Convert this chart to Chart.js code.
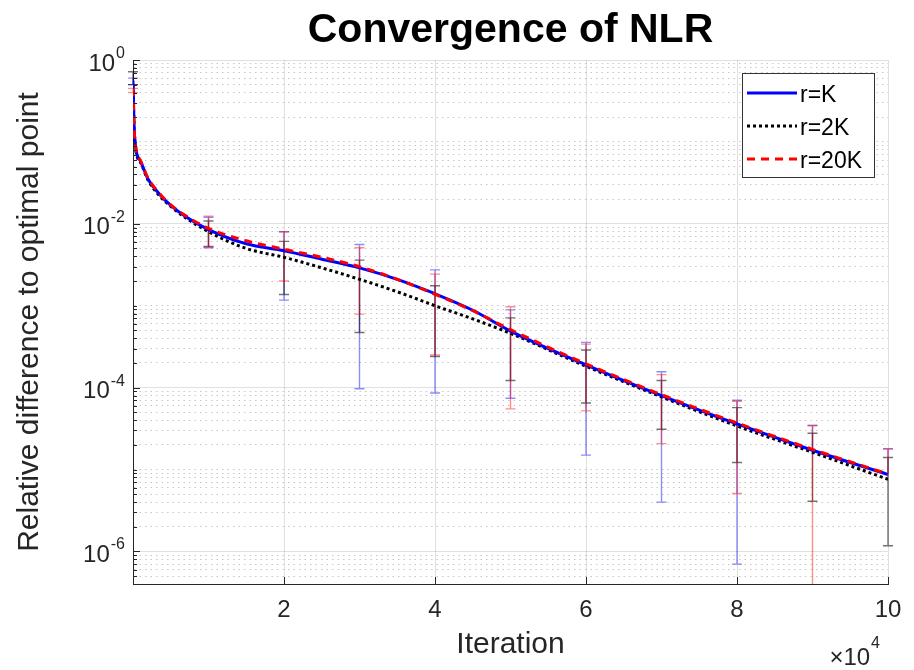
<!DOCTYPE html>
<html lang="en">
<head>
<meta charset="UTF-8">
<title>Convergence of NLR</title>
<script src="https://cdn.jsdelivr.net/npm/chart.js"></script>
<style>
  body { margin: 0; background: #fff; }
</style>
</head>
<body>
<canvas id="chart" width="914" height="670"></canvas>
<script>
// iteration (in units of 1e4) and mean relative difference of each run
const iters = [0, 0.02, 0.1, 0.2, 0.35, 0.5, 0.7, 1, 1.5, 2, 2.5, 3, 3.5, 4, 4.5, 5, 6, 7, 8, 9, 10];
const rK   = [0.56, 0.12, 0.058, 0.035, 0.023, 0.0168, 0.0122, 0.0085, 0.0057, 0.0047, 0.0037, 0.0029, 0.0021, 0.0014, 0.00088, 0.00049, 0.00019, 0.00008, 0.000036, 0.0000172, 0.0000087];
const r2K  = [0.5, 0.11, 0.056, 0.034, 0.022, 0.0163, 0.0118, 0.0080, 0.0050, 0.0039, 0.0029, 0.0021, 0.00148, 0.00100, 0.00069, 0.00046, 0.000182, 0.000077, 0.000034, 0.0000162, 0.0000076];
const r20K = [0.45, 0.12, 0.059, 0.036, 0.0235, 0.017, 0.0125, 0.0088, 0.0062, 0.0049, 0.0039, 0.0030, 0.0021, 0.00138, 0.00087, 0.00051, 0.000195, 0.000082, 0.000037, 0.0000176, 0.0000088];

// error bars at whole iterations (null = lower end not shown)
const barIters = [0, 1, 2, 3, 4, 5, 6, 7, 8, 9, 10];
const rKHi   = [0.6, 0.0120, 0.0080, 0.0056, 0.00274, 0.00089, 0.000357, 0.000156, 0.000070, 0.0000345, 0.0000178];
const rKLo   = [0.5, 0.0051, 0.00117, 0.000097, 0.000086, 0.000074, 0.000015, 0.0000040, 0.0000007, null, null];
const r2KHi  = [0.72, 0.0108, 0.0061, 0.0036, 0.00175, 0.00071, 0.000288, 0.000122, 0.000057, 0.0000277, 0.0000140];
const r2KLo  = [0.5, 0.0053, 0.00137, 0.00047, 0.00024, 0.000122, 0.000065, 0.000031, 0.0000122, 0.0000041, 0.00000117];
const r20KHi = [0.45, 0.0124, 0.0080, 0.0051, 0.00243, 0.00097, 0.00034, 0.000144, 0.000068, 0.0000345, 0.0000180];
const r20KLo = [0.4, 0.0052, 0.0020, 0.00079, 0.00025, 0.000055, 0.000052, 0.0000207, 0.0000051, 0.0000003, null];

const xTicks = [2, 4, 6, 8, 10];
const yTickExps = [0, -2, -4, -6];
const yMin = 4e-7, yMax = 1;

const FONT = '"Liberation Sans", Arial, Helvetica, sans-serif';
const AXIS = '#262626';

const series = [
  { label: 'r=K',   mean: rK,   hi: rKHi,   lo: rKLo,   color: '#0000ff', dash: [],     bar: 'rgba(0,0,255,0.45)' },
  { label: 'r=2K',  mean: r2K,  hi: r2KHi,  lo: r2KLo,  color: '#000000', dash: [3, 3], bar: 'rgba(0,0,0,0.55)' },
  { label: 'r=20K', mean: r20K, hi: r20KHi, lo: r20KLo, color: '#ff0000', dash: [8, 6], bar: 'rgba(255,0,0,0.45)' }
];

// grid positions for the log axis: 1..9 x 10^e
const yGrid = [];
for (let e = -7; e <= 0; e++) {
  for (let m = 1; m <= 9; m++) {
    const v = Number((m * Math.pow(10, e)).toPrecision(6));
    if (v >= yMin && v <= yMax) yGrid.push(v);
  }
}
const isMajor = v => yTickExps.some(e => Math.abs(Math.log10(v) - e) < 1e-6);

const decor = {
  id: 'decor',
  beforeDatasetsDraw(chart) {
    const { ctx, chartArea: a, scales: { x, y } } = chart;
    // error bars, under the lines
    ctx.save();
    ctx.beginPath();
    ctx.rect(a.left - 12, a.top, a.width + 24, a.height);
    ctx.clip();
    ctx.lineWidth = 1.4;
    series.forEach(s => {
      ctx.strokeStyle = s.bar;
      barIters.forEach((it, i) => {
        const px = x.getPixelForValue(it);
        const top = y.getPixelForValue(s.hi[i]);
        const hasLo = s.lo[i] != null;
        const bot = y.getPixelForValue(hasLo ? s.lo[i] : s.mean[iters.indexOf(it)]);
        ctx.beginPath();
        ctx.moveTo(px, top); ctx.lineTo(px, bot);
        ctx.moveTo(px - 5, top); ctx.lineTo(px + 5, top);
        if (hasLo) { ctx.moveTo(px - 5, bot); ctx.lineTo(px + 5, bot); }
        ctx.stroke();
      });
    });
    ctx.restore();
  },
  afterDraw(chart) {
    const { ctx, chartArea: a, scales: { x, y } } = chart;
    ctx.save();
    // inward tick marks
    ctx.strokeStyle = AXIS;
    ctx.lineWidth = 1;
    ctx.beginPath();
    yGrid.forEach(v => {
      const py = Math.round(y.getPixelForValue(v)) + 0.5;
      ctx.moveTo(a.left, py);
      ctx.lineTo(a.left + (isMajor(v) ? 7 : 4), py);
    });
    xTicks.forEach(v => {
      const px = Math.round(x.getPixelForValue(v)) + 0.5;
      ctx.moveTo(px, a.bottom);
      ctx.lineTo(px, a.bottom - 7);
    });
    ctx.stroke();

    // y tick labels 10^e
    ctx.fillStyle = AXIS;
    yTickExps.forEach(e => {
      const py = y.getPixelForValue(Math.pow(10, e));
      const right = a.left - 8;
      ctx.font = '16px ' + FONT;
      ctx.textAlign = 'right';
      ctx.textBaseline = 'alphabetic';
      const expTxt = String(e);
      const ew = ctx.measureText(expTxt).width;
      ctx.fillText(expTxt, right, py - 2);
      ctx.font = '24px ' + FONT;
      ctx.textBaseline = 'middle';
      ctx.fillText('10', right - ew - 1, py + 4);
    });

    // x scale factor
    ctx.textAlign = 'right';
    ctx.textBaseline = 'alphabetic';
    ctx.font = '16px ' + FONT;
    const w4 = ctx.measureText('4').width;
    ctx.fillText('4', a.right - 8, a.bottom + 64);
    ctx.font = '24px ' + FONT;
    ctx.fillText('\u00d710', a.right - 9 - w4, a.bottom + 81);

    // axis titles
    ctx.fillStyle = AXIS;
    ctx.font = '30px ' + FONT;
    ctx.textAlign = 'center';
    ctx.textBaseline = 'middle';
    ctx.fillText('Iteration', (a.left + a.right) / 2, a.bottom + 61);
    ctx.save();
    ctx.translate(30, (a.top + a.bottom) / 2);
    ctx.rotate(-Math.PI / 2);
    ctx.fillText('Relative difference to optimal point', 0, 0);
    ctx.restore();

    // title
    ctx.fillStyle = '#000';
    ctx.font = 'bold 41px ' + FONT;
    ctx.fillText('Convergence of NLR', (a.left + a.right) / 2, 31);

    // legend
    const lx = a.right - 146, ly = a.top + 13, lw = 132, lh = 104;
    ctx.fillStyle = '#fff';
    ctx.fillRect(lx, ly, lw, lh);
    ctx.strokeStyle = '#333';
    ctx.lineWidth = 1;
    ctx.strokeRect(lx + 0.5, ly + 0.5, lw, lh);
    series.forEach((s, i) => {
      const ry = ly + 20 + i * 33;
      ctx.strokeStyle = s.color;
      ctx.lineWidth = 3;
      ctx.setLineDash(s.dash);
      ctx.beginPath();
      ctx.moveTo(lx + 5, ry);
      ctx.lineTo(lx + 55, ry);
      ctx.stroke();
      ctx.setLineDash([]);
      ctx.fillStyle = '#000';
      ctx.font = '23px ' + FONT;
      ctx.textAlign = 'left';
      ctx.textBaseline = 'middle';
      ctx.fillText(s.label, lx + 58, ry + 3);
    });
    ctx.restore();
  }
};

new Chart(document.getElementById('chart'), {
  type: 'line',
  data: {
    datasets: series.map((s, i) => ({
      label: s.label,
      data: iters.map((it, k) => ({ x: it, y: s.mean[k] })),
      borderColor: s.color,
      borderWidth: 3,
      borderDash: s.dash,
      cubicInterpolationMode: 'monotone',
      pointRadius: 0,
      fill: false,
      order: [1, 2, 0][i]
    }))
  },
  options: {
    responsive: false,
    animation: false,
    devicePixelRatio: 1,
    layout: { padding: { top: 60, right: 26, left: 0, bottom: 0 } },
    plugins: {
      legend: { display: false },
      title: { display: false },
      tooltip: { enabled: false }
    },
    scales: {
      x: {
        type: 'linear',
        min: 0,
        max: 10,
        afterFit: s => { s.height = 86; },
        ticks: {
          stepSize: 2,
          autoSkip: false,
          maxRotation: 0,
          padding: 12,
          color: AXIS,
          font: { family: FONT, size: 24 },
          callback: v => xTicks.includes(v) ? String(v) : ''
        },
        grid: { drawTicks: false, color: 'rgba(0,0,0,0.12)', lineWidth: 1 },
        border: { color: AXIS, width: 1 }
      },
      y: {
        type: 'logarithmic',
        min: yMin,
        max: yMax,
        afterFit: s => { s.width = 133; },
        afterBuildTicks: s => { s.ticks = yGrid.map(v => ({ value: v })); },
        ticks: { autoSkip: false, callback: () => '' },
        grid: {
          drawTicks: false,
          lineWidth: 1,
          color: ctx => (ctx.tick && isMajor(ctx.tick.value)) ? 'rgba(0,0,0,0.12)' : 'rgba(0,0,0,0.22)'
        },
        border: {
          color: AXIS,
          width: 1,
          dash: ctx => (ctx.tick && !isMajor(ctx.tick.value)) ? [1.5, 4] : []
        }
      }
    }
  },
  plugins: [decor]
});
</script>
</body>
</html>
